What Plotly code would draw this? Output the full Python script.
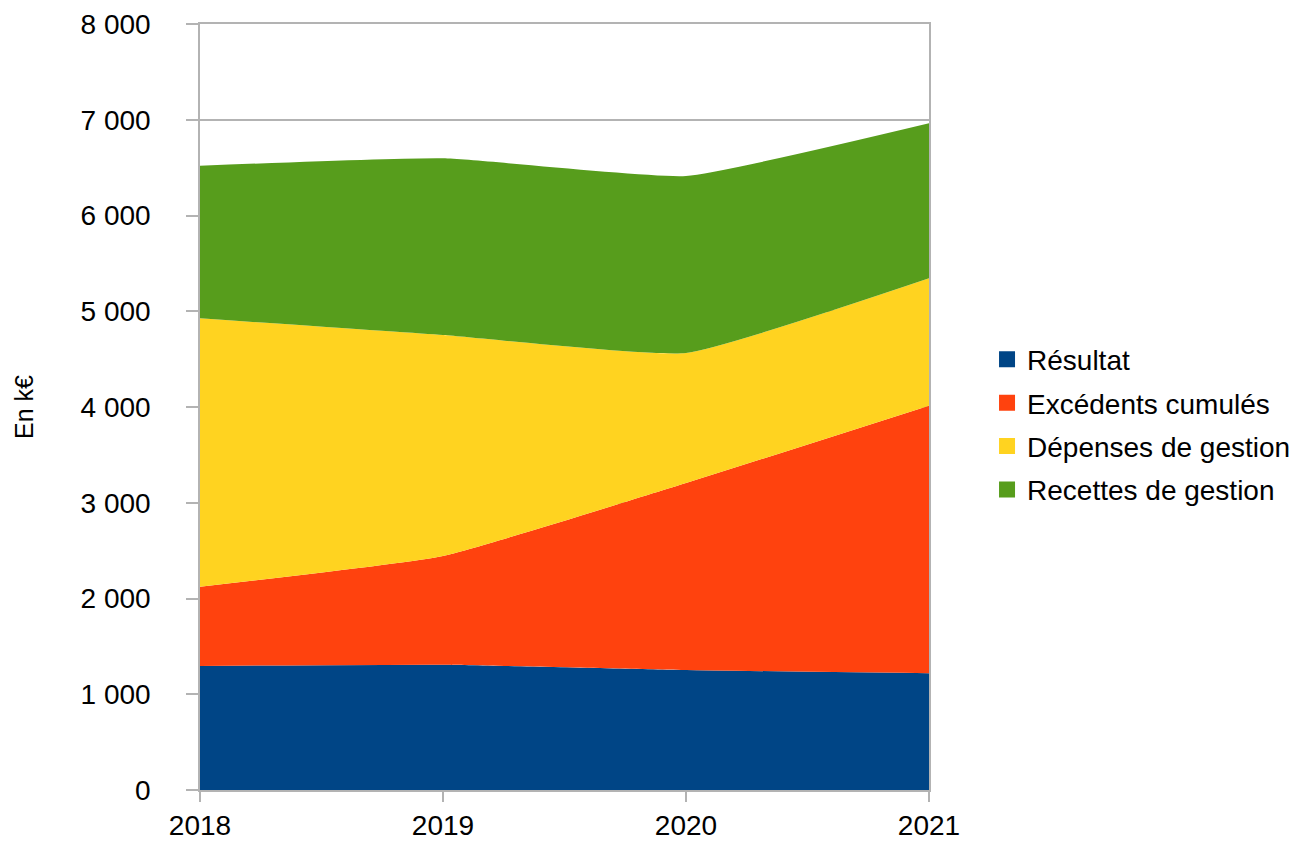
import plotly.graph_objects as go

years = [2018, 2019, 2020, 2021]
resultat = [1295, 1308, 1253, 1219]
excedents = [828, 1136, 1953, 2795]
depenses = [2803, 2308, 1358, 1330]
recettes = [1594, 1845, 1849, 1619]

series = [
    ("Résultat", resultat, "#004586"),
    ("Excédents cumulés", excedents, "#ff420e"),
    ("Dépenses de gestion", depenses, "#ffd320"),
    ("Recettes de gestion", recettes, "#579d1c"),
]

fig = go.Figure()
for name, vals, col in series:
    fig.add_trace(go.Scatter(
        x=years, y=vals, name=name, stackgroup="s", mode="none",
        fillcolor=col, line=dict(shape="spline", smoothing=0.4, width=0),
        legendgroup=name, showlegend=False,
    ))
    # legend-only entry with a square swatch
    fig.add_trace(go.Scatter(
        x=[None], y=[None], name=name, mode="markers",
        marker=dict(symbol="square", size=18, color=col),
        legendgroup=name, showlegend=True,
    ))

fig.update_layout(
    width=1314, height=841,
    margin=dict(l=192, r=393, t=16, b=59),
    plot_bgcolor="white", paper_bgcolor="white",
    separators=", ",
    font=dict(family="Liberation Sans, Arial, sans-serif", color="#000000"),
    showlegend=True,
    legend=dict(
        x=1.0796, xanchor="left", y=0.477, yanchor="middle",
        traceorder="grouped", tracegroupgap=4,
        font=dict(size=28), itemwidth=30,
    ),
    xaxis=dict(
        range=[2018, 2021], tickvals=years, ticktext=[str(y) for y in years],
        showgrid=False, showline=True, linecolor="#b3b3b3", linewidth=1.5,
        ticks="outside", ticklen=10, tickcolor="#b3b3b3", tickwidth=1.5,
        tickfont=dict(size=28), mirror=True, zeroline=False, automargin=False,
    ),
    yaxis=dict(
        range=[0, 8000], dtick=1000, tickformat=",.0f",
        showgrid=True, gridcolor="#b3b3b3", gridwidth=1.5,
        showline=True, linecolor="#b3b3b3", linewidth=1.5, mirror=True,
        ticks="outside", ticklen=12, tickcolor="#b3b3b3", tickwidth=1.5,
        tickfont=dict(size=28), zeroline=False, automargin=False,
        ticklabelstandoff=30,
        title=dict(text="En k€", font=dict(size=25), standoff=40),
    ),
)

fig.write_html("out.html")
